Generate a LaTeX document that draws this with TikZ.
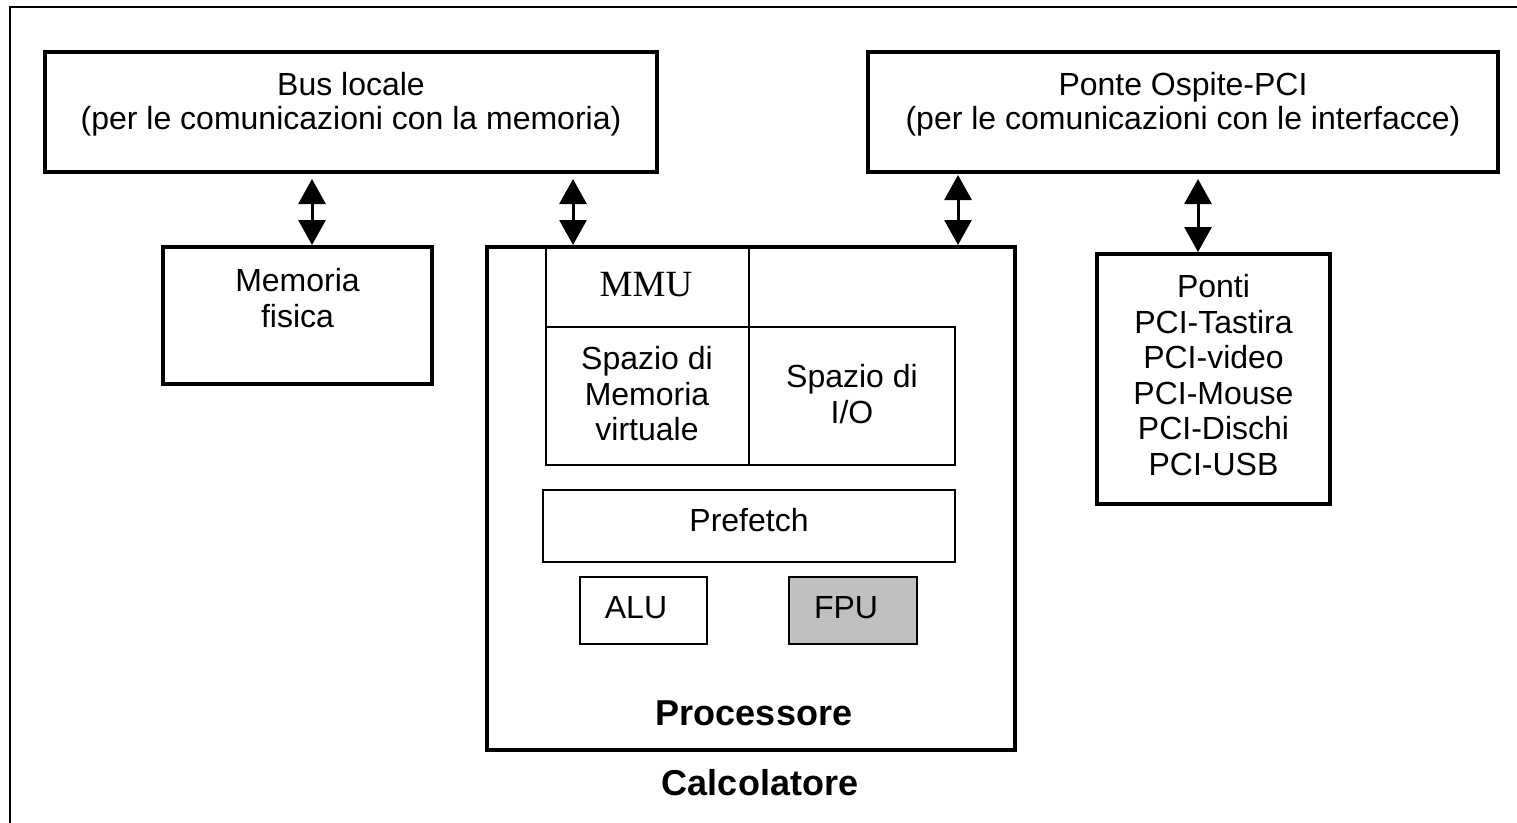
\documentclass[tikz,border=0pt]{standalone}
\usepackage{fontspec}
\setmainfont{Liberation Sans}
\newfontfamily\mmufont{Liberation Serif}
\usetikzlibrary{arrows.meta}
\definecolor{fpugray}{HTML}{C0C0C0}
\begin{document}
\begin{tikzpicture}[x=1pt,y=-1pt,
  heavy/.style={draw,line width=4pt,inner sep=0pt,outer sep=0pt},
  light/.style={draw,line width=2pt,inner sep=0pt,outer sep=0pt},
  txt/.style={align=center,inner sep=0pt,font=\fontsize{32}{35.5}\selectfont},
  toptxt/.style={align=center,inner sep=0pt,font=\fontsize{32}{34}\selectfont},
  boldtxt/.style={inner sep=0pt,font=\fontsize{36}{40}\selectfont\bfseries},
  dbl/.style={line width=3pt,{Triangle[length=25pt,width=27pt]}-{Triangle[length=25pt,width=27pt]}},
]
\useasboundingbox (0,0) rectangle (1517,822);
% outer frame of the computer
\draw[line width=2pt] (9.5,840) -- (9.5,7) -- (1540,7);

% top buses
\node[heavy,minimum width=612pt,minimum height=120pt] (bus) at (351,112) {};
\node[toptxt] (bust) at (351,104) {Bus locale\\(per le comunicazioni con la memoria)};
\node[heavy,minimum width=630pt,minimum height=120pt] (ponte) at (1183,112) {};
\node[toptxt] (pontet) at (1183,104) {Ponte Ospite-PCI\\(per le comunicazioni con le interfacce)};

% physical memory
\node[heavy,minimum width=269pt,minimum height=137pt] (memf) at (297.5,315.5) {};
\node[txt] (memft) at (297.5,298) {Memoria\\fisica};

% processor and its units
\node[heavy,minimum width=528pt,minimum height=503pt] (proc) at (751,498.5) {};
\node[light,minimum width=203pt,minimum height=80pt] (mmu) at (647.5,287) {};
\node[inner sep=0pt,font=\fontsize{37}{40}\mmufont] (mmut) at (646,285) {MMU};
\node[light,minimum width=203pt,minimum height=138pt] (virt) at (647.5,396) {};
\node[txt] (virtt) at (647,394) {Spazio di\\Memoria\\virtuale};
\node[light,minimum width=206pt,minimum height=138pt] (io) at (852,396) {};
\node[txt] (iot) at (852,394) {Spazio di\\I/O};
\node[light,minimum width=412pt,minimum height=72pt] (pref) at (749,526) {};
\node[txt] (preft) at (749,520) {Prefetch};
\node[light,minimum width=127pt,minimum height=67pt] (alu) at (643.5,610.5) {};
\node[txt] (alut) at (636,608) {ALU};
\node[light,fill=fpugray,minimum width=128pt,minimum height=67pt] (fpu) at (853,610.5) {};
\node[txt] (fput) at (846,608) {FPU};
\node[boldtxt] (proct) at (754,713) {Processore};
\node[boldtxt] (calct) at (760,783) {Calcolatore};

% PCI bridges
\node[heavy,minimum width=233pt,minimum height=250pt] (ponti) at (1213.5,379) {};
\node[txt] (pontit) at (1213.5,375) {Ponti\\PCI-Tastira\\PCI-video\\PCI-Mouse\\PCI-Dischi\\PCI-USB};

% bidirectional links
\coordinate (pmem) at (312,247);
\coordinate (pmmu) at (573,247);
\coordinate (pio) at (958,247);
\coordinate (pbr) at (1198,254);
\draw[dbl,shorten <=7pt,shorten >=2pt] (bus.south -| pmem) -- (pmem);
\draw[dbl,shorten <=7pt,shorten >=2pt] (bus.south -| pmmu) -- (pmmu);
\draw[dbl,shorten <=3pt,shorten >=2pt] (ponte.south -| pio) -- (pio);
\draw[dbl,shorten <=7pt,shorten >=2pt] (ponte.south -| pbr) -- (pbr);
\end{tikzpicture}
\end{document}
